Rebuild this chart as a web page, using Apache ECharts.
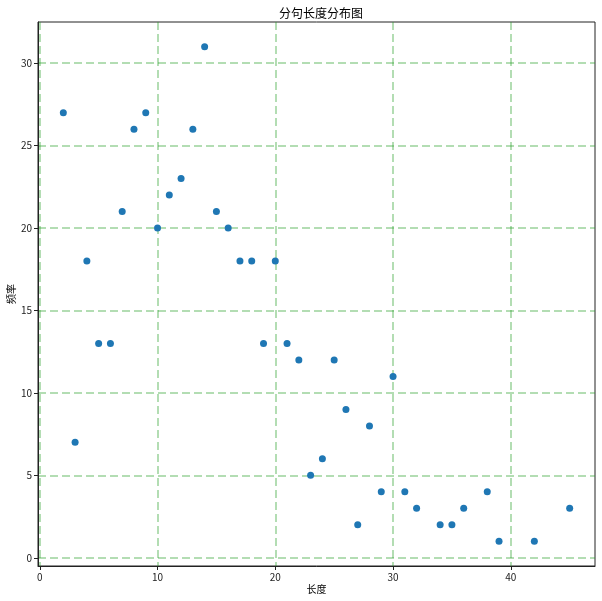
<!DOCTYPE html>
<html>
<head>
<meta charset="utf-8">
<script src="https://cdn.jsdelivr.net/npm/echarts@6/dist/echarts.min.js"></script>
<style>
  html, body { margin: 0; padding: 0; background: #fff; }
  #chart { width: 602px; height: 601px; }
</style>
</head>
<body>
<div id="chart"></div>
<script>
// 分句长度 -> 频率
var lengths = [2, 3, 4, 5, 6, 7, 8, 9, 10, 11, 12, 13, 14, 15, 16, 17, 18, 19, 20, 21,
               22, 23, 24, 25, 26, 27, 28, 29, 30, 31, 32, 34, 35, 36, 38, 39, 42, 45];
var counts = [27, 7, 18, 13, 13, 21, 26, 27, 20, 22, 23, 26, 31, 21, 20, 18, 18, 13, 18, 13,
              12, 5, 6, 12, 9, 2, 8, 4, 11, 4, 3, 2, 2, 3, 4, 1, 1, 3];
var xTicks = [0, 10, 20, 30, 40];
var yTicks = [0, 5, 10, 15, 20, 25, 30];

var points = lengths.map(function (v, i) { return [v, counts[i]]; });

var font = '"Noto Sans CJK SC", "DejaVu Sans", sans-serif';
var gridLine = { show: true, lineStyle: { color: 'rgba(44,160,44,0.36)', width: 2, type: [8, 4] } };

var chart = echarts.init(document.getElementById('chart'));
chart.setOption({
  animation: false,
  title: {
    text: '分句长度分布图',
    left: 316, top: 2, textAlign: 'center',
    textStyle: { fontFamily: font, fontSize: 12, fontWeight: 'normal', color: '#000' }
  },
  grid: {
    left: 38, right: 7, top: 22, bottom: 35,
    containLabel: false, outerBoundsMode: 'none',
    show: true, borderColor: '#222', borderWidth: 1
  },
  xAxis: {
    type: 'value', min: -0.15, max: 47.15,
    name: '长度', nameLocation: 'middle', nameGap: 18, nameMoveOverlap: false,
    nameTextStyle: { fontFamily: font, fontSize: 10, color: '#000' },
    axisLine: { show: true, onZero: false, lineStyle: { color: '#222' } },
    axisTick: { show: true, length: 4, customValues: xTicks, lineStyle: { color: '#222' } },
    axisLabel: { customValues: xTicks, fontFamily: font, fontSize: 10, color: '#222', margin: 6 },
    splitLine: gridLine
  },
  yAxis: {
    type: 'value', min: -0.5, max: 32.5,
    name: '频率', nameLocation: 'middle', nameGap: 22, nameMoveOverlap: false,
    nameTextStyle: { fontFamily: font, fontSize: 10, color: '#000' },
    axisLine: { show: true, onZero: false, lineStyle: { color: '#222' } },
    axisTick: { show: true, length: 4, customValues: yTicks, lineStyle: { color: '#222' } },
    axisLabel: { customValues: yTicks, fontFamily: font, fontSize: 10, color: '#222', margin: 6 },
    splitLine: gridLine
  },
  series: [{
    type: 'scatter',
    data: points,
    symbolSize: 7,
    itemStyle: { color: '#1f77b4', opacity: 1 }
  }]
});
</script>
</body>
</html>
